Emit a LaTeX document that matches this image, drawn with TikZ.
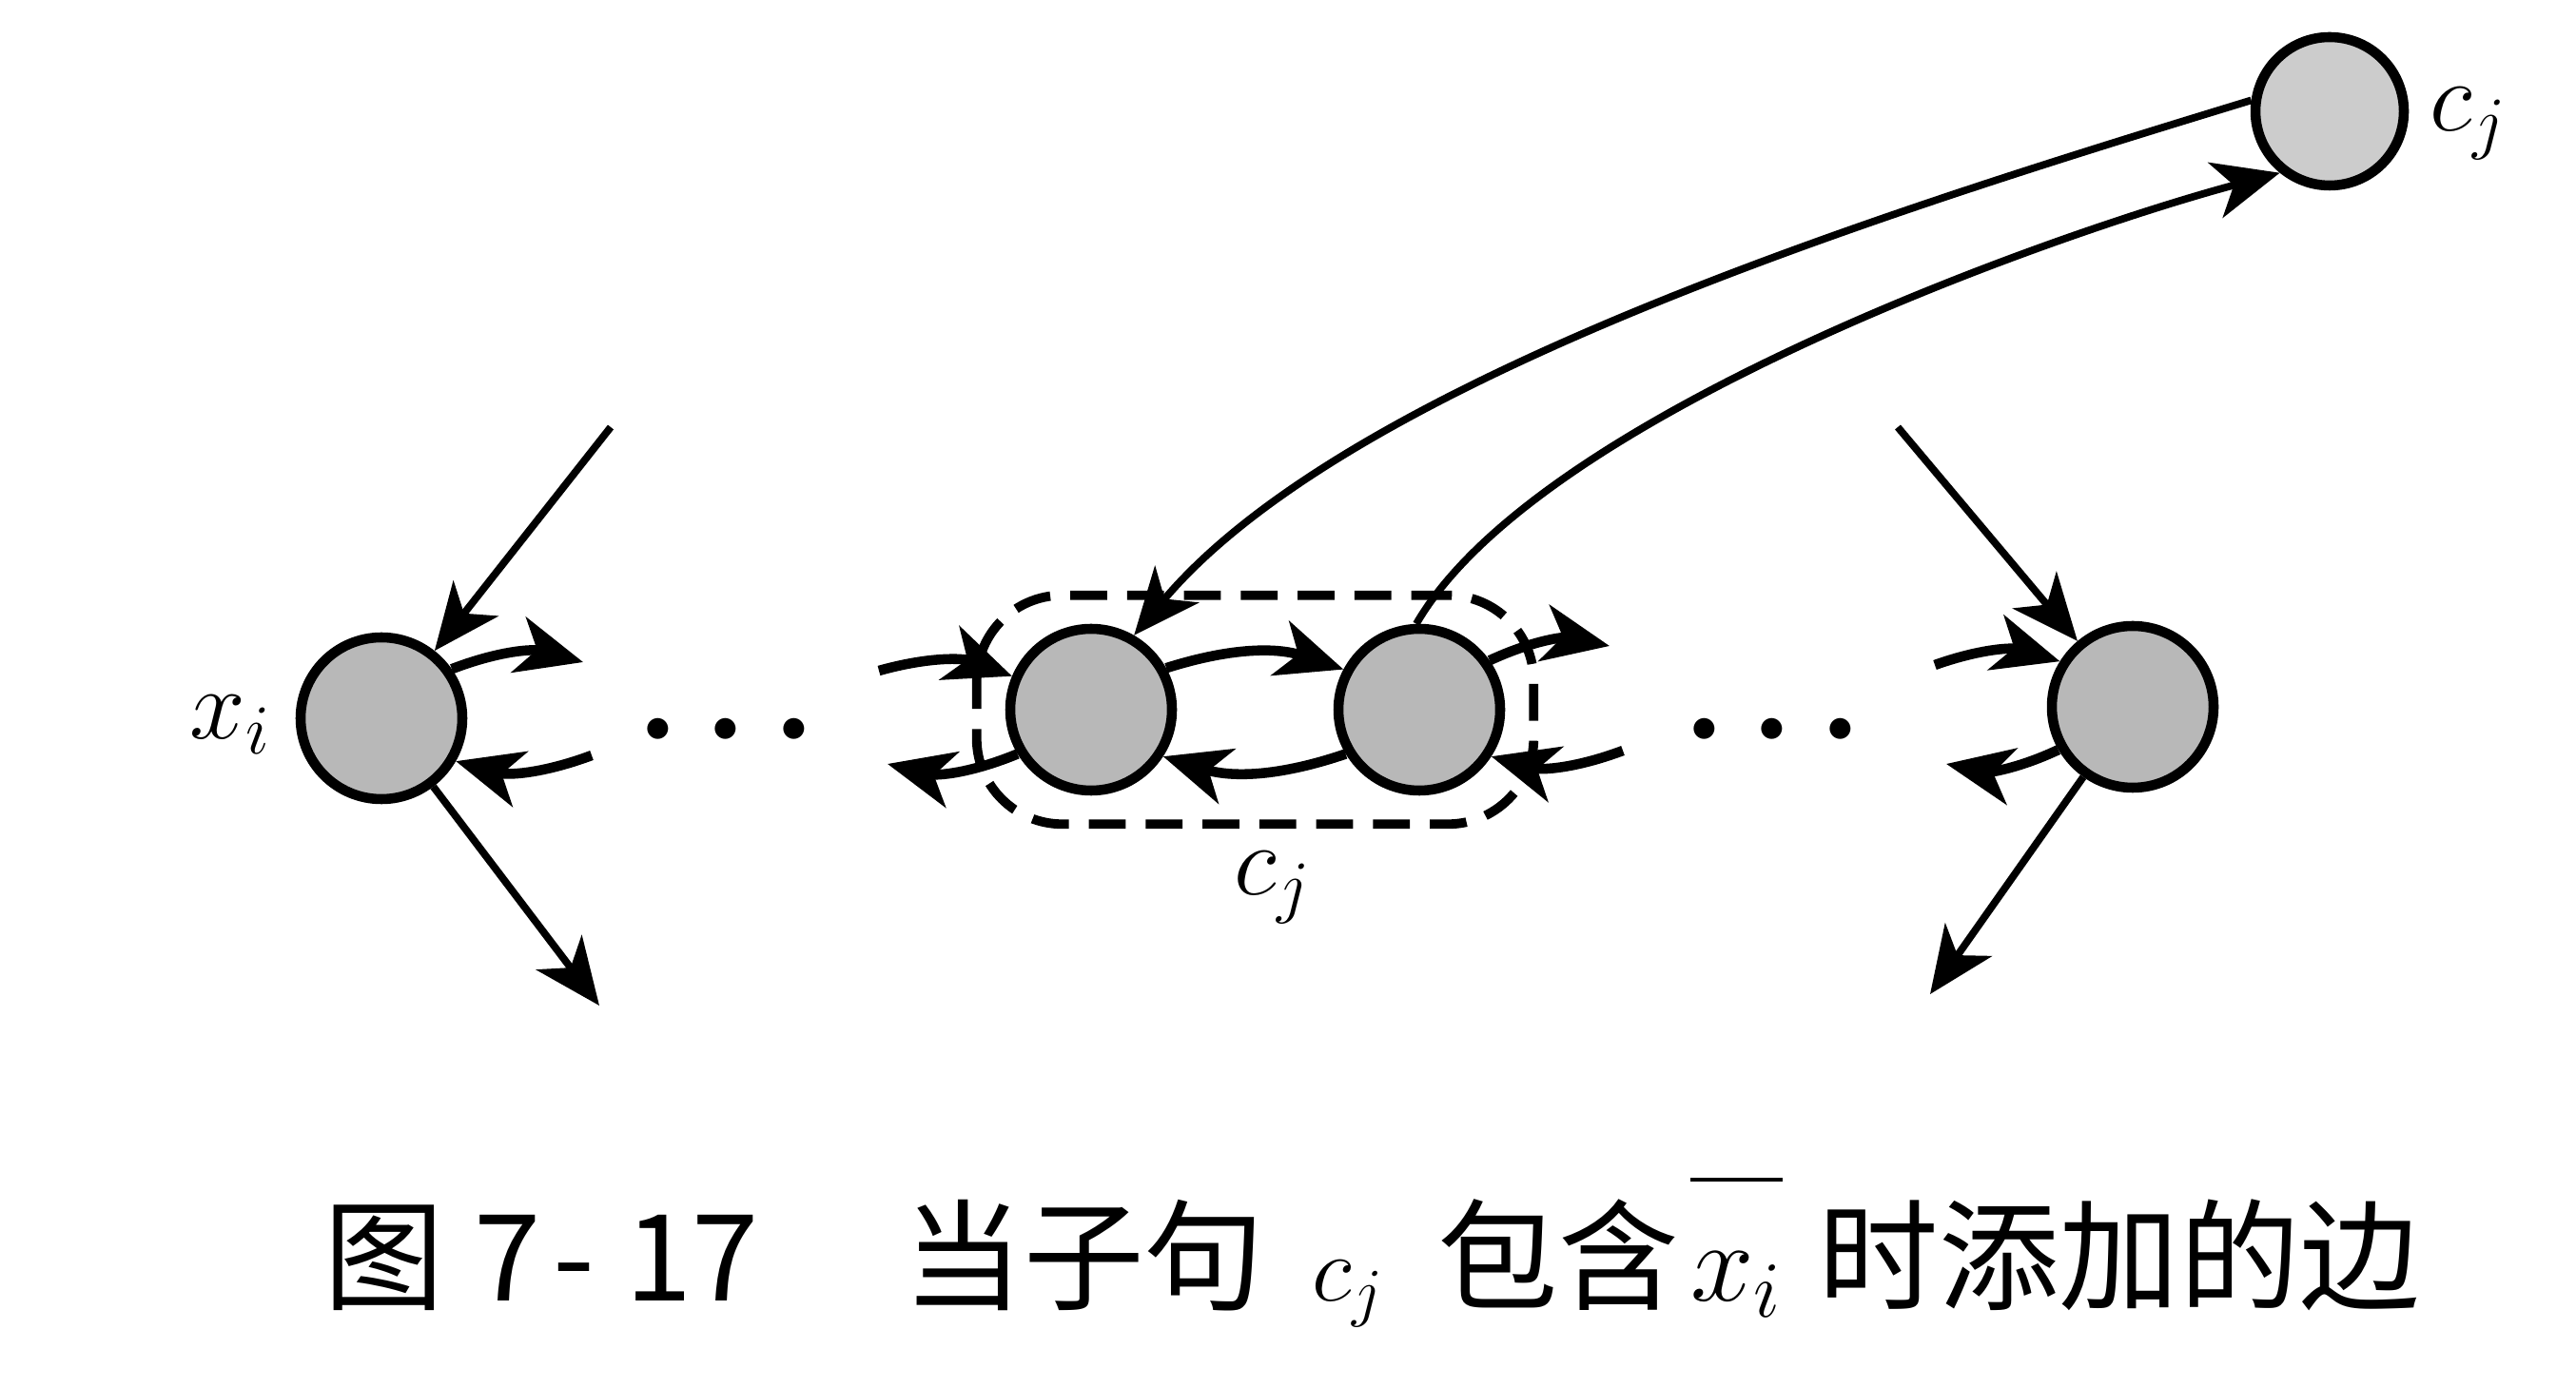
\RequirePackage{fix-cm}
\documentclass[tikz,border=0pt]{standalone}
\usepackage{amsmath}
\usepackage{fontspec}
\newfontfamily\cjk{Noto Sans CJK SC}
\usetikzlibrary{arrows.meta,fit,positioning}
\tikzstyle{vertex}=[circle,draw,line width=3pt,fill=black!28,minimum size=1.7cm,inner sep=0pt]
\tikzstyle{small vertex} = [vertex, minimum size=1.56cm, fill=black!20]
\tikzstyle{edge} = [draw,line width=2.2pt,-{Stealth[length=7mm,width=6mm,inset=2mm]}]
\tikzstyle{short edge} = [edge, line width=3pt]
\tikzstyle{tag} = [inner sep=0pt,font=\fontsize{30}{34}\selectfont]
\tikzstyle{dots} = [inner sep=0pt,font=\fontsize{40}{44}\selectfont]
\newcommand{\mathsz}[2]{{\fontsize{#1}{#1}\selectfont$#2$}}

\begin{document}
\begin{tikzpicture}
    \useasboundingbox (0,0) rectangle (27.08,-14.59);
    % First we draw the vertices
    \foreach \pos/\name in {{(4.01,-7.55)/xi}, {(11.47,-7.46)/ca}, {(14.92,-7.46)/cb}, {(22.42,-7.43)/xr}}
        \node[vertex] (\name) at \pos {};
    \node[small vertex] (cj) at (24.49,-1.17) {};

    % the clause box and the labels
    \node[draw,line width=2.8pt,dash pattern=on 11pt off 6pt,rounded corners=0.9cm,inner sep=0.3cm,fit=(ca)(cb)] (clause) {};
    \node[tag] (cjlow) at (13.38,-9.33) {$c_j$};
    \node[tag] (cjtop) at (25.95,-1.3) {$c_j$};
    \node[tag] (xilab) at (2.42,-7.62) {$x_i$};
    \node[dots] (dotsa) at (7.77,-7.68) {$\boldsymbol{\cdots}$};
    \node[dots] (dotsb) at (18.77,-7.68) {$\boldsymbol{\cdots}$};

    % free ends of the edges
    \foreach \pos/\name in {{(6.42,-4.49)/xin}, {(6.30,-10.57)/xout}, {(6.13,-6.96)/xa}, {(6.22,-7.94)/xb},
                            {(9.24,-7.05)/la}, {(9.33,-8.03)/lb}, {(16.92,-6.79)/ra}, {(17.06,-7.89)/rb},
                            {(19.95,-4.49)/yin}, {(20.34,-6.99)/ya}, {(20.46,-8.03)/yb}, {(20.29,-10.45)/yout}}
        \node[coordinate] (\name) at \pos {};

    % Connect vertices with edges
    \foreach \source/\dest in {xin/xi, xi/xout, yin/xr, xr/yout}
        \path[edge] (\source) -- (\dest);
    \foreach \source/\dest in {xi.35/xa, xb/xi.-30, la/ca.157, ca.211/lb, ca.29/cb.152, cb.211/ca.-33,
                               cb.35/ra, rb/cb.-33, ya/xr.148, xr.210/yb}
        \path[short edge] (\source) to[bend left=18] (\dest);
    \path[edge] (cj.172) to[out=197,in=50,out looseness=0.73,in looseness=0.7] (ca.60);
    \path[edge] (cb.92) to[out=60,in=195,out looseness=0.63,in looseness=0.61] (cj.231);

    % caption
    \node[inner sep=0pt,anchor=base west,font=\cjk\fontsize{36}{40}\selectfont] (caption) at (3.40,-13.67)
        {图\hspace{0.25em}7\hspace{0.1em}-\hspace{0.25em}17\hspace{1.2em}当子句\hspace{0.4em}\mathsz{28}{c_j}\hspace{0.45em}包含\hspace{0.1em}\mathsz{34}{\overline{\rule{0pt}{1.15cm}x_i}}\hspace{0.3em}时添加的边};
\end{tikzpicture}
\end{document}
